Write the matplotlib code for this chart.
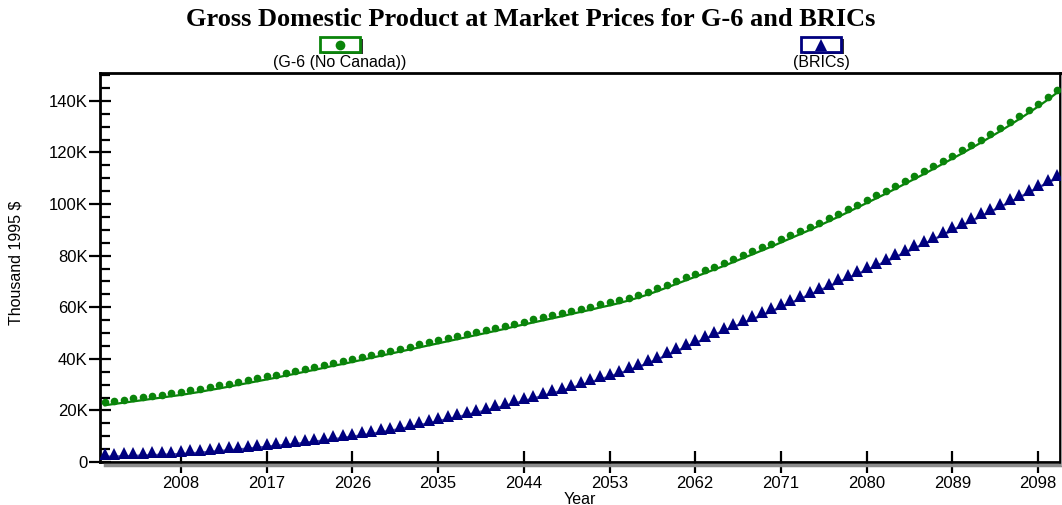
import numpy as np
import matplotlib
matplotlib.use('Agg')
import matplotlib.pyplot as plt
import matplotlib.transforms as mtransforms
from matplotlib.patches import Rectangle
from matplotlib.lines import Line2D
from matplotlib.ticker import FuncFormatter, MultipleLocator

# GDP at market prices, thousand 1995 $ (values in K), one point per year 2000..2100
years = np.arange(2000, 2101)

g6 = [22.0, 22.5, 23.0, 23.5, 24.0, 24.5, 25.0, 25.5, 26.0, 26.6,
      27.2, 27.9, 28.5, 29.2, 29.9, 30.6, 31.3, 32.0, 32.7, 33.5,
      34.2, 35.0, 35.7, 36.5, 37.3, 38.0, 38.8, 39.6, 40.4, 41.2,
      42.0, 42.8, 43.6, 44.4, 45.2, 46.0, 46.8, 47.6, 48.4, 49.2,
      50.0, 50.8, 51.6, 52.5, 53.3, 54.1, 54.9, 55.7, 56.5, 57.4,
      58.2, 59.0, 59.9, 60.7, 61.6, 62.6, 63.7, 64.9, 66.2, 67.6,
      69.0, 70.4, 71.8, 73.2, 74.6, 76.0, 77.5, 79.0, 80.5, 82.0,
      83.5, 85.1, 86.7, 88.3, 89.9, 91.6, 93.3, 95.0, 96.8, 98.6,
      100.4, 102.2, 104.0, 105.9, 107.8, 109.7, 111.6, 113.6, 115.6, 117.6,
      119.6, 121.7, 123.8, 126.0, 128.2, 130.5, 132.9, 135.3, 137.8, 140.4,
      143.2]

brics = [2.0, 2.1, 2.2, 2.3, 2.5, 2.6, 2.8, 2.9, 3.1, 3.3,
         3.6, 3.9, 4.2, 4.5, 4.8, 5.2, 5.5, 5.9, 6.3, 6.6,
         7.0, 7.4, 7.9, 8.3, 8.8, 9.3, 9.8, 10.3, 10.9, 11.5,
         12.1, 12.8, 13.5, 14.2, 15.0, 15.8, 16.6, 17.4, 18.2, 19.1,
         19.9, 20.8, 21.7, 22.7, 23.6, 24.6, 25.6, 26.6, 27.6, 28.7,
         29.8, 30.9, 32.0, 33.1, 34.3, 35.5, 36.8, 38.2, 39.7, 41.3,
         42.9, 44.5, 46.1, 47.7, 49.3, 50.8, 52.3, 53.8, 55.3, 56.8,
         58.4, 60.0, 61.6, 63.2, 64.8, 66.4, 68.0, 69.6, 71.2, 72.8,
         74.4, 76.0, 77.7, 79.4, 81.1, 82.8, 84.5, 86.2, 88.0, 89.8,
         91.6, 93.4, 95.2, 97.0, 98.8, 100.6, 102.5, 104.4, 106.3, 108.2,
         110.1]

xticks = np.arange(2008, 2099, 9)
green = '#0a840a'
navy = '#00007f'

fig = plt.figure(figsize=(10.62, 5.05), dpi=100)
ax = fig.add_axes([100 / 1062, 1 - 462 / 505, 960 / 1062, 389 / 505])

# markers sit a few pixels above the line in the original
up = mtransforms.offset_copy(ax.transData, fig=fig, x=0, y=3, units='dots')
ax.plot(years, g6, color=green, lw=1.6, zorder=3)
ax.plot(years, g6, 'o', color=green, ms=5.5, mew=0, transform=up, zorder=4)
ax.plot(years, brics, color='#5050b0', lw=1.8, zorder=3)
ax.plot(years, brics, '^', color=navy, ms=8, mew=0, transform=up, zorder=4)

ax.set_xlim(1999.5, 2100.3)
ax.set_ylim(0, 150.8)
ax.set_xticks(xticks)
ax.yaxis.set_major_locator(MultipleLocator(20))
ax.yaxis.set_minor_locator(MultipleLocator(5))
ax.yaxis.set_major_formatter(FuncFormatter(lambda v, p: '0' if v == 0 else '%dK' % v))

for s in ax.spines.values():
    s.set_linewidth(2)
ax.tick_params(axis='x', which='major', direction='inout', length=16, width=1.6,
               labelsize=12, pad=2)
ax.tick_params(axis='y', which='major', direction='inout', length=16, width=1.6,
               labelsize=12, pad=1)
ax.tick_params(axis='y', which='minor', direction='in', length=7.5, width=1.6)
for lab in ax.get_xticklabels() + ax.get_yticklabels():
    lab.set_family('Liberation Sans')

ax.set_xlabel('Year', family='Liberation Sans', fontsize=11.5, labelpad=0.5)
fig.text(16 / 1062, 1 - 263 / 505, 'Thousand 1995 $', rotation=90, ha='center',
         va='center', family='Liberation Sans', fontsize=11.5)

# shadows under the frame
fig.add_artist(Line2D([105 / 1062, 1.0], [1 - 465 / 505] * 2, color='#8c8c8c', lw=2.5))
fig.add_artist(Line2D([1061.5 / 1062] * 2, [1 - 76 / 505, 1 - 465 / 505], color='#b0b0b0', lw=1.2))

fig.text(0.5, 1 - 19 / 505, 'Gross Domestic Product at Market Prices for G-6 and BRICs',
         ha='center', va='center', family='Liberation Serif', weight='bold', fontsize=19)

# legend boxes
for cx, col, mk, ms, lab in [(340, green, 'o', 7, '(G-6 (No Canada))'),
                             (821, navy, '^', 9, '(BRICs)')]:
    w, h = 40, 15
    x0, y0 = cx - w / 2, 1 - (52 / 505)
    fig.add_artist(Rectangle(((x0 + 3) / 1062, y0 - 2 / 505), w / 1062, h / 505,
                             facecolor='#303030', edgecolor='none'))
    fig.add_artist(Rectangle((x0 / 1062, y0), w / 1062, h / 505,
                             facecolor='white', edgecolor=col, lw=2))
    fig.add_artist(Line2D([cx / 1062], [y0 + h / 2 / 505], marker=mk, color=col,
                          ms=ms, mew=0, ls='none'))
    fig.text(cx / 1062, 1 - 62 / 505, lab, ha='center', va='center',
             family='Liberation Sans', fontsize=11.5)

fig.savefig('out.png', dpi=100)
